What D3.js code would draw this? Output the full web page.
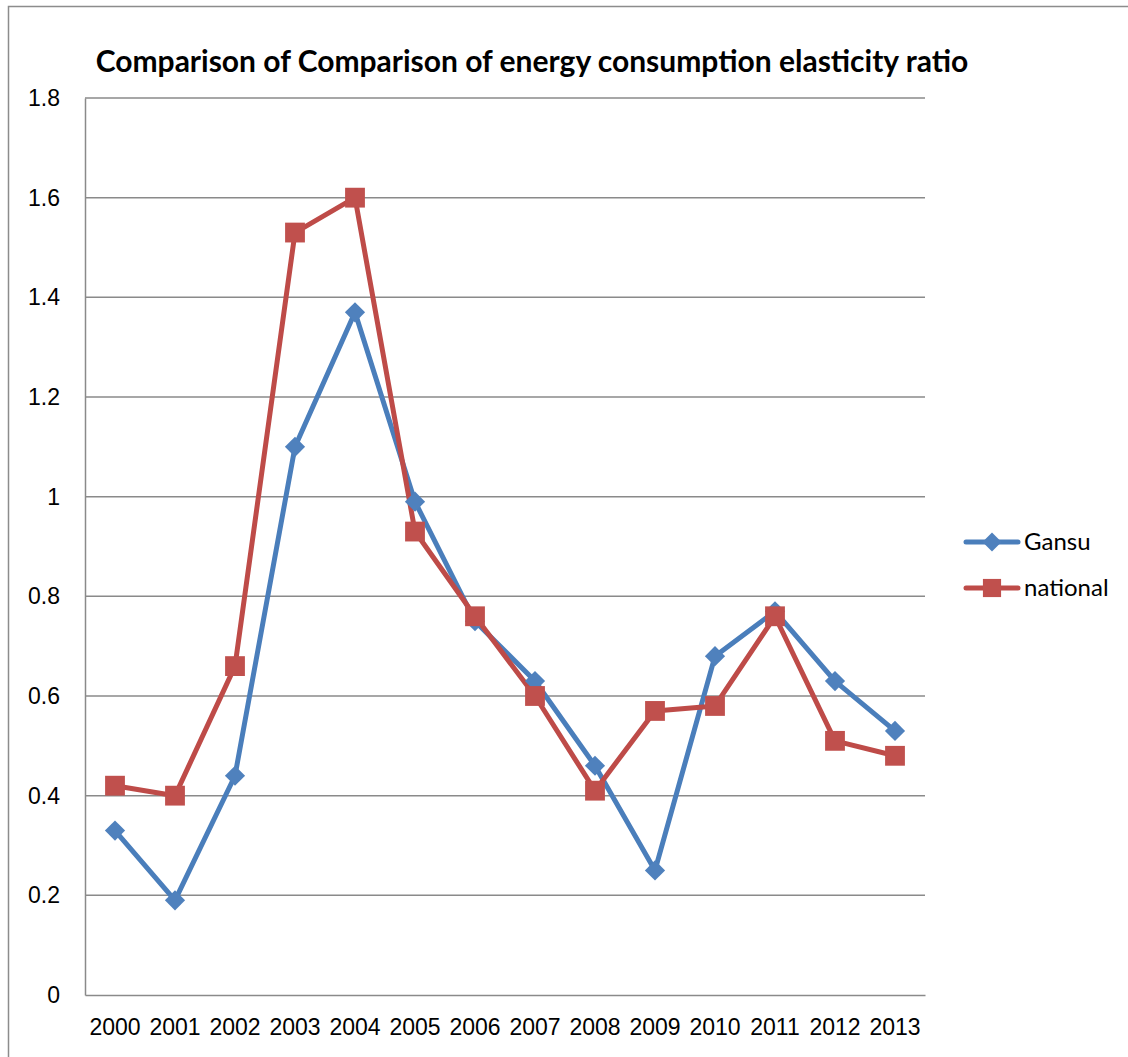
<!DOCTYPE html>
<html>
<head>
<meta charset="utf-8">
<script src="https://cdn.jsdelivr.net/npm/d3@7"></script>
<style>
  html, body { margin: 0; padding: 0; background: #fff; }
  svg { display: block; font-family: Lato, "Open Sans", "Liberation Sans", sans-serif; }
</style>
</head>
<body>
<svg id="chart" width="1128" height="1057"></svg>
<script>
// Energy consumption elasticity ratio, Gansu vs national, 2000-2013
const years = ["2000","2001","2002","2003","2004","2005","2006","2007","2008","2009","2010","2011","2012","2013"];
const gansu = [0.33, 0.19, 0.44, 1.10, 1.37, 0.99, 0.75, 0.63, 0.46, 0.25, 0.68, 0.77, 0.63, 0.53];
const national = [0.42, 0.40, 0.66, 1.53, 1.60, 0.93, 0.76, 0.60, 0.41, 0.57, 0.58, 0.76, 0.51, 0.48];
const yTicks = [0, 0.2, 0.4, 0.6, 0.8, 1, 1.2, 1.4, 1.6, 1.8];
const seriesNames = ["Gansu", "national"];

const svg = d3.select("#chart");
const W = 1128, H = 1057;
const plot = { left: 85, right: 925, top: 98, bottom: 995 };

// outer frame
svg.append("rect")
  .attr("x", 8.5).attr("y", 6.5)
  .attr("width", W + 10).attr("height", H + 10)
  .attr("fill", "#fff").attr("stroke", "#8c8c8c").attr("stroke-width", 1.5);

const x = d3.scaleBand().domain(years).range([plot.left, plot.right]);
const y = d3.scaleLinear().domain([0, 1.8]).range([plot.bottom, plot.top]);

// horizontal gridlines
svg.append("g")
  .selectAll("line")
  .data(yTicks.filter(t => t > 0))
  .join("line")
  .attr("x1", plot.left).attr("x2", plot.right)
  .attr("y1", d => y(d)).attr("y2", d => y(d))
  .attr("stroke", "#8a8a8a").attr("stroke-width", 1.5);

// y axis
const yAxis = svg.append("g")
  .attr("transform", `translate(${plot.left},0)`)
  .call(d3.axisLeft(y).tickValues(yTicks).tickFormat(d => String(+d.toFixed(1))).tickSize(0).tickPadding(25));
yAxis.select(".domain").attr("stroke", "#8a8a8a").attr("stroke-width", 1.5);
yAxis.selectAll("text").attr("font-size", 23).attr("fill", "#000");

// x axis
const xAxis = svg.append("g")
  .attr("transform", `translate(0,${plot.bottom})`)
  .call(d3.axisBottom(x).tickSize(0).tickPadding(24));
xAxis.select(".domain").attr("stroke", "#8a8a8a").attr("stroke-width", 1.5);
xAxis.selectAll("text").attr("font-size", 23).attr("fill", "#000");

// title
svg.append("text")
  .attr("x", 532).attr("y", 72)
  .attr("text-anchor", "middle")
  .attr("font-size", 30).attr("font-weight", "bold").attr("fill", "#000")
  .text("Comparison of Comparison of energy consumption elasticity ratio");

const cx = (d, i) => x(years[i]) + x.bandwidth() / 2;
const line = d3.line().x((d, i) => cx(d, i)).y(d => y(d));

const styles = [
  { values: gansu, line: "#4A7EBB", fill: "#4F81BD", shape: d3.symbolDiamond2, size: 260, legendSize: 230 },
  { values: national, line: "#BE4B48", fill: "#C0504D", shape: d3.symbolSquare2, size: 500, legendSize: 420 }
];

// series lines and markers
styles.forEach(s => {
  svg.append("path")
    .datum(s.values)
    .attr("d", line)
    .attr("fill", "none")
    .attr("stroke", s.line).attr("stroke-width", 5)
    .attr("stroke-linejoin", "round");
});
styles.forEach(s => {
  svg.append("g")
    .selectAll("path")
    .data(s.values)
    .join("path")
    .attr("transform", (d, i) => `translate(${cx(d, i)},${y(d)})`)
    .attr("d", d3.symbol(s.shape, s.size))
    .attr("fill", s.fill);
});

// legend
const legend = svg.append("g");
const legendY = [542, 588];
styles.forEach((s, i) => {
  const g = legend.append("g").attr("transform", `translate(0,${legendY[i]})`);
  g.append("line")
    .attr("x1", 966).attr("x2", 1018)
    .attr("stroke", s.line).attr("stroke-width", 5).attr("stroke-linecap", "round");
  g.append("path")
    .attr("transform", "translate(992,0)")
    .attr("d", d3.symbol(s.shape, s.legendSize))
    .attr("fill", s.fill);
  g.append("text")
    .attr("x", 1024).attr("y", 0).attr("dy", "0.35em")
    .attr("font-size", 24).attr("fill", "#000")
    .text(seriesNames[i]);
});
</script>
</body>
</html>
